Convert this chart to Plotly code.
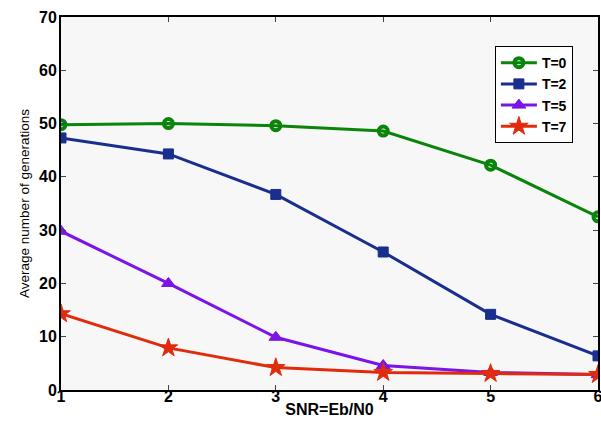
import plotly.graph_objects as go

snr = [1, 2, 3, 4, 5, 6]
t0 = [49.8, 50.0, 49.6, 48.6, 42.2, 32.5]
t2 = [47.3, 44.3, 36.7, 25.9, 14.2, 6.4]
t5 = [29.8, 20.0, 9.9, 4.6, 3.3, 2.9]
t7 = [14.3, 7.9, 4.2, 3.3, 3.1, 2.9]
names = ["T=0", "T=2", "T=5", "T=7"]
colors = ["#0a840a", "#1a2e8e", "#7a14e8", "#e02c0c"]
symbols = ["circle-open", "square", "triangle-up", "star"]
sizes = [9, 10, 12, 14]

fig = go.Figure()
for ys, n, c, s, sz in zip([t0, t2, t5, t7], names, colors, symbols, sizes):
    mk = dict(symbol=s, size=sz, color=c)
    if "open" in s:
        mk["line"] = dict(color=c, width=4)
    else:
        mk["line"] = dict(color=c, width=1)
    fig.add_trace(go.Scatter(x=snr, y=ys, name=n, mode="lines+markers",
                             line=dict(color=c, width=3), marker=mk))

font = "Liberation Sans, Arial, sans-serif"
fig.update_layout(
    width=601, height=425,
    margin=dict(l=61, r=3, t=17, b=35),
    paper_bgcolor="white", plot_bgcolor="#f7f7f7",
    font=dict(family=font, color="black"),
    showlegend=True,
    legend=dict(x=0.808, y=0.922, xanchor="left", yanchor="top",
                bgcolor="white", bordercolor="black", borderwidth=1,
                font=dict(size=14, family=font, weight="bold"),
                tracegroupgap=0, itemwidth=36),
    xaxis=dict(range=[1, 6], tickvals=snr, ticks="inside", ticklen=5,
               showgrid=False, zeroline=False, showline=True, linecolor="black",
               linewidth=2, mirror="ticks", automargin=False,
               ticklabelstandoff=-9, ticklabeloverflow="allow",
               tickfont=dict(size=16, family=font, weight="bold"),
               title=dict(text="SNR=Eb/N0", standoff=0,
                          font=dict(size=16, family=font, weight="bold"))),
    yaxis=dict(range=[0, 70], tickvals=[0, 10, 20, 30, 40, 50, 60, 70],
               ticks="inside", ticklen=5,
               showgrid=False, zeroline=False, showline=True, linecolor="black",
               linewidth=2, mirror="ticks", automargin=False,
               ticklabelstandoff=-1, ticklabeloverflow="allow",
               tickfont=dict(size=16, family=font, weight="bold"),
               title=dict(text="Average number of generations", standoff=6,
                          font=dict(size=13.5, family=font))),
)
fig.write_html("out.html")
